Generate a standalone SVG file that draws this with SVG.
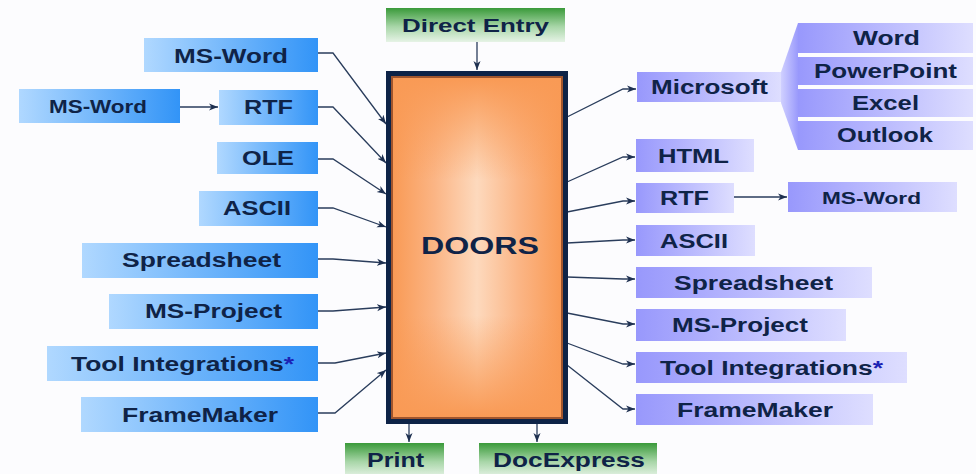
<svg xmlns="http://www.w3.org/2000/svg" width="976" height="474" viewBox="0 0 976 474">
<defs>
<linearGradient id="gBlue" x1="0" y1="0" x2="1" y2="0"><stop offset="0" stop-color="#b0d8ff"/><stop offset="1" stop-color="#3294f7"/></linearGradient>
<linearGradient id="gPurple" x1="0" y1="0" x2="1" y2="0"><stop offset="0" stop-color="#9898fc"/><stop offset="1" stop-color="#dedeff"/></linearGradient>
<linearGradient id="gTrap" x1="0" y1="0" x2="1" y2="0"><stop offset="0" stop-color="#d0d0ff"/><stop offset="1" stop-color="#9a9afc"/></linearGradient>
<linearGradient id="gGreen" x1="0" y1="0" x2="0" y2="1"><stop offset="0" stop-color="#3a9a3a"/><stop offset="0.55" stop-color="#a8d6a8"/><stop offset="1" stop-color="#e6f3e6"/></linearGradient>
<linearGradient id="gOrangeH" x1="0" y1="0" x2="1" y2="0"><stop offset="0" stop-color="#f99a55"/><stop offset="0.25" stop-color="#fbb585"/><stop offset="0.5" stop-color="#fdd9bd"/><stop offset="0.75" stop-color="#fbb585"/><stop offset="1" stop-color="#f99a55"/></linearGradient>
<linearGradient id="gOrangeV" x1="0" y1="0" x2="0" y2="1"><stop offset="0" stop-color="#f99a55" stop-opacity="1"/><stop offset="0.3" stop-color="#f99a55" stop-opacity="0"/><stop offset="0.7" stop-color="#f99a55" stop-opacity="0"/><stop offset="1" stop-color="#f99a55" stop-opacity="1"/></linearGradient>
<marker id="arr" markerWidth="10" markerHeight="8" refX="9" refY="4" orient="auto" markerUnits="userSpaceOnUse"><path d="M0,0.5 L9,4 L0,7.5 L2.5,4 z" fill="#1e3050"/></marker>
<style>
.t{font-family:"Liberation Sans",Arial,sans-serif;font-weight:bold;fill:#0f2347;text-anchor:middle;font-size:20px}
.s{font-size:18px}
.ast{fill:#1c22b4}
.c{fill:none;stroke:#2a3d5c;stroke-width:1.3;marker-end:url(#arr)}
</style>
</defs>
<rect width="976" height="474" fill="#fcfcfe"/>

<g id="connectors">
<path class="c" d="M318,53 L333,53 L386,124"/>
<path class="c" d="M180,107 L218,107"/>
<path class="c" d="M318,107 L333,107 L386,163"/>
<path class="c" d="M318,159 L333,159 L386,194"/>
<path class="c" d="M318,208 L333,208 L386,227"/>
<path class="c" d="M318,259 L333,259 L386,263"/>
<path class="c" d="M318,311 L333,311 L386,307"/>
<path class="c" d="M318,363 L335,363 L386,353"/>
<path class="c" d="M318,413 L335,413 L386,370"/>
<path class="c" d="M477,42 L477,70"/>
<path class="c" d="M409,424 L409,442"/>
<path class="c" d="M537,424 L537,442"/>
<path class="c" d="M567,117 L623,89 L636,89"/>
<path class="c" d="M567,182 L623,157 L635,157"/>
<path class="c" d="M567,212 L623,201 L635,201"/>
<path class="c" d="M567,243 L623,240 L635,240"/>
<path class="c" d="M567,277 L623,279 L635,279"/>
<path class="c" d="M567,313 L623,324 L635,324"/>
<path class="c" d="M567,343 L623,364 L635,364"/>
<path class="c" d="M567,365 L623,409 L635,409"/>
<path class="c" d="M734,197 L787,197"/>
</g>

<g id="doors">
<rect x="386" y="71" width="182" height="353" fill="#0d2347"/>
<rect x="391" y="76" width="172" height="343" fill="#a0552d"/>
<rect x="393" y="78" width="168" height="339" fill="url(#gOrangeH)"/>
<rect x="393" y="78" width="168" height="339" fill="url(#gOrangeV)"/>
<text class="t" x="480" y="254" style="font-size:24px" textLength="118" lengthAdjust="spacingAndGlyphs">DOORS</text>
</g>

<g id="direct-entry"><rect x="386" y="8" width="179" height="34" fill="url(#gGreen)"/><text class="t" x="475.5" y="32" style="font-size:19px" textLength="147" lengthAdjust="spacingAndGlyphs">Direct Entry</text></g>
<g id="print"><rect x="345" y="443" width="99" height="34" fill="url(#gGreen)"/><text class="t" x="395.5" y="467" textLength="57" lengthAdjust="spacingAndGlyphs">Print</text></g>
<g id="docexpress"><rect x="479" y="443" width="178" height="34" fill="url(#gGreen)"/><text class="t" x="569" y="467" textLength="152" lengthAdjust="spacingAndGlyphs">DocExpress</text></g>

<g id="in-msword"><rect x="144" y="38" width="174" height="34" fill="url(#gBlue)"/><text class="t" x="231" y="63" textLength="114" lengthAdjust="spacingAndGlyphs">MS-Word</text></g>
<g id="in-msword-src"><rect x="19" y="89" width="161" height="34" fill="url(#gBlue)"/><text class="t s" x="98" y="113" textLength="98" lengthAdjust="spacingAndGlyphs">MS-Word</text></g>
<g id="in-rtf"><rect x="219" y="90" width="99" height="35" fill="url(#gBlue)"/><text class="t" x="268.5" y="114" textLength="49" lengthAdjust="spacingAndGlyphs">RTF</text></g>
<g id="in-ole"><rect x="217" y="142" width="101" height="32" fill="url(#gBlue)"/><text class="t" x="268" y="165" textLength="52" lengthAdjust="spacingAndGlyphs">OLE</text></g>
<g id="in-ascii"><rect x="199" y="191" width="119" height="35" fill="url(#gBlue)"/><text class="t" x="257" y="215" textLength="68" lengthAdjust="spacingAndGlyphs">ASCII</text></g>
<g id="in-spreadsheet"><rect x="82" y="243" width="236" height="35" fill="url(#gBlue)"/><text class="t" x="201.5" y="267" textLength="159" lengthAdjust="spacingAndGlyphs">Spreadsheet</text></g>
<g id="in-msproject"><rect x="109" y="294" width="209" height="35" fill="url(#gBlue)"/><text class="t" x="213.5" y="318" textLength="137" lengthAdjust="spacingAndGlyphs">MS-Project</text></g>
<g id="in-tools"><rect x="47" y="346" width="271" height="35" fill="url(#gBlue)"/><text class="t" x="182.5" y="371" textLength="223" lengthAdjust="spacingAndGlyphs">Tool Integrations<tspan class="ast">*</tspan></text></g>
<g id="in-framemaker"><rect x="81" y="397" width="237" height="35" fill="url(#gBlue)"/><text class="t" x="200" y="422" textLength="156" lengthAdjust="spacingAndGlyphs">FrameMaker</text></g>

<g id="out-microsoft">
<rect x="637" y="72" width="144" height="30" fill="url(#gPurple)"/>
<polygon points="781,72 798,23 798,150 781,103" fill="url(#gTrap)"/>
<text class="t" x="709.5" y="94" textLength="117" lengthAdjust="spacingAndGlyphs">Microsoft</text>
</g>
<g id="out-word"><rect x="798" y="23" width="175" height="30" fill="url(#gPurple)"/><text class="t" x="886.5" y="45" textLength="67" lengthAdjust="spacingAndGlyphs">Word</text></g>
<g id="out-powerpoint"><rect x="798" y="57" width="175" height="28" fill="url(#gPurple)"/><text class="t" x="885.5" y="78" textLength="143" lengthAdjust="spacingAndGlyphs">PowerPoint</text></g>
<g id="out-excel"><rect x="798" y="89" width="175" height="28" fill="url(#gPurple)"/><text class="t" x="885.5" y="110" textLength="67" lengthAdjust="spacingAndGlyphs">Excel</text></g>
<g id="out-outlook"><rect x="798" y="121" width="175" height="29" fill="url(#gPurple)"/><text class="t" x="885" y="142" textLength="96" lengthAdjust="spacingAndGlyphs">Outlook</text></g>
<g id="out-html"><rect x="636" y="139" width="118" height="33" fill="url(#gPurple)"/><text class="t" x="693.5" y="163" textLength="71" lengthAdjust="spacingAndGlyphs">HTML</text></g>
<g id="out-rtf"><rect x="636" y="183" width="98" height="30" fill="url(#gPurple)"/><text class="t" x="684.5" y="205" textLength="49" lengthAdjust="spacingAndGlyphs">RTF</text></g>
<g id="out-msword"><rect x="788" y="182" width="169" height="30" fill="url(#gPurple)"/><text class="t" x="871.5" y="204" style="font-size:17px" textLength="99" lengthAdjust="spacingAndGlyphs">MS-Word</text></g>
<g id="out-ascii"><rect x="636" y="225" width="119" height="31" fill="url(#gPurple)"/><text class="t" x="694" y="248" textLength="68" lengthAdjust="spacingAndGlyphs">ASCII</text></g>
<g id="out-spreadsheet"><rect x="636" y="267" width="236" height="31" fill="url(#gPurple)"/><text class="t" x="753.5" y="290" textLength="159" lengthAdjust="spacingAndGlyphs">Spreadsheet</text></g>
<g id="out-msproject"><rect x="636" y="309" width="210" height="32" fill="url(#gPurple)"/><text class="t" x="740" y="332" textLength="136" lengthAdjust="spacingAndGlyphs">MS-Project</text></g>
<g id="out-tools"><rect x="636" y="352" width="271" height="31" fill="url(#gPurple)"/><text class="t" x="771.5" y="375" textLength="223" lengthAdjust="spacingAndGlyphs">Tool Integrations<tspan class="ast">*</tspan></text></g>
<g id="out-framemaker"><rect x="636" y="394" width="237" height="31" fill="url(#gPurple)"/><text class="t" x="755" y="417" textLength="156" lengthAdjust="spacingAndGlyphs">FrameMaker</text></g>
</svg>
